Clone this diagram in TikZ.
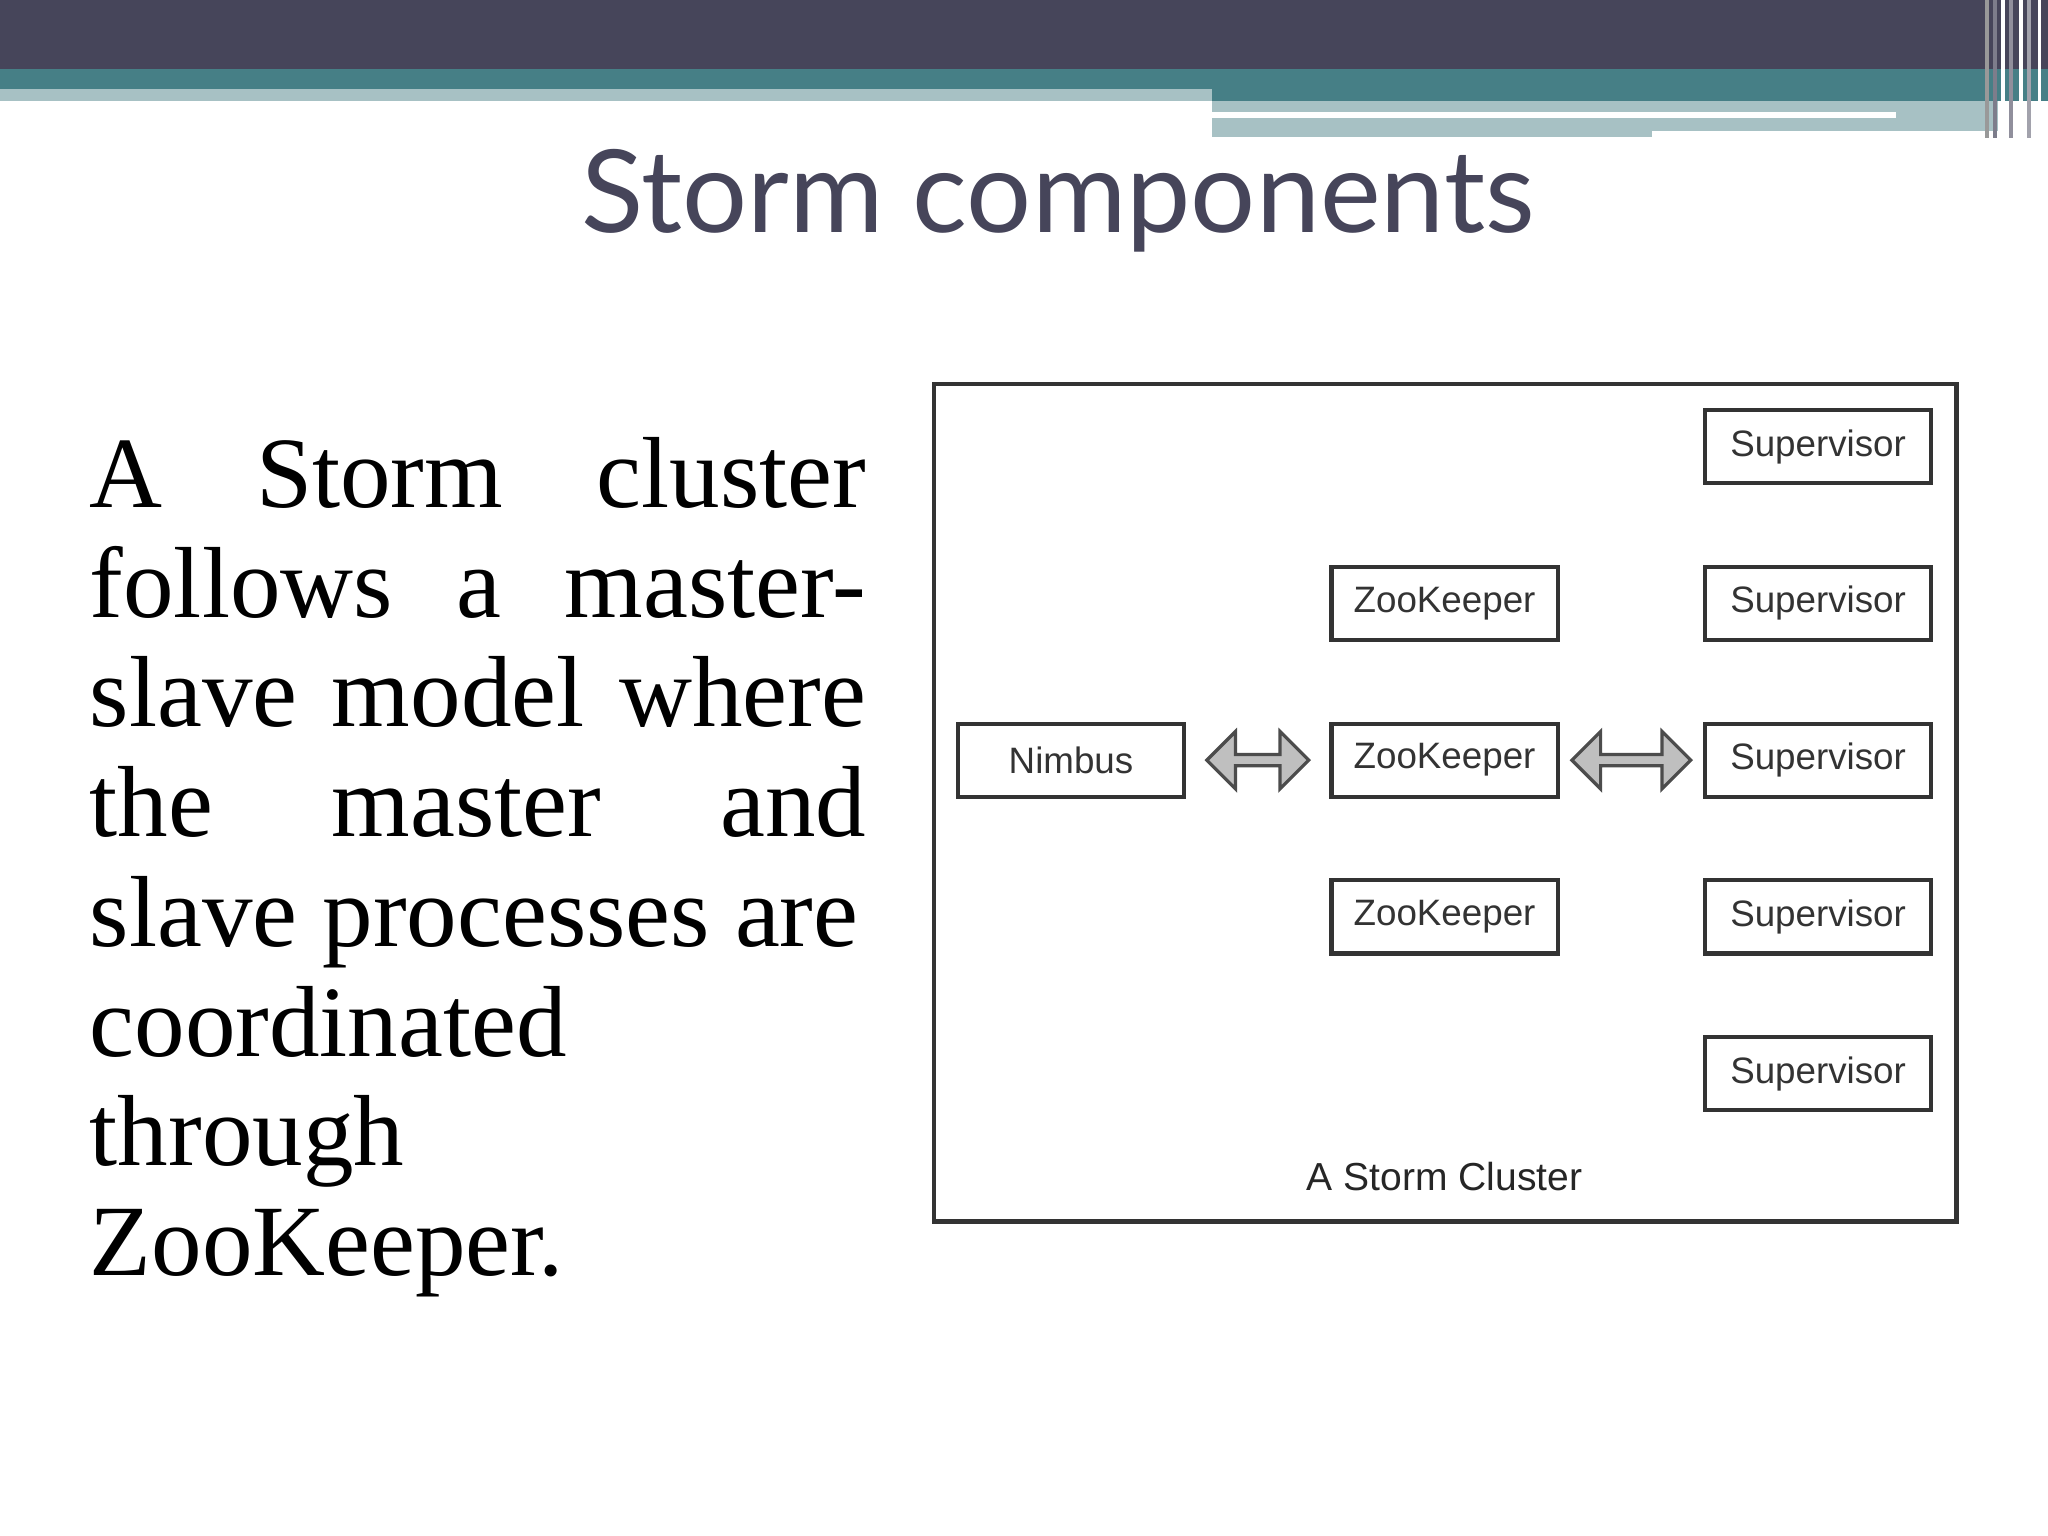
\documentclass[tikz,border=0pt]{standalone}
\usepackage{fontspec}
\setmainfont{Liberation Serif}
\newfontfamily\titlefont{Lato}
\newfontfamily\diagfont{Liberation Sans}
\usetikzlibrary{shapes.arrows}
\definecolor{dark}{HTML}{46455A}
\definecolor{teal}{HTML}{467F86}
\definecolor{lteal}{HTML}{A7C1C4}
\begin{document}
\begin{tikzpicture}[x=0.01cm,y=-0.01cm,
  box/.style={draw=black!80,line width=0.9pt,minimum width=1.73cm,minimum height=0.56cm,inner sep=0pt,font=\diagfont\fontsize{8}{10}\selectfont,text=black!80},
  darr/.style={double arrow,draw=black!70,fill=black!25,line width=0.7pt,double arrow head extend=0.05cm,minimum width=0.44cm,inner sep=0pt}]
\useasboundingbox (0,0) rectangle (1568,1176);
\fill[white] (0,0) rectangle (1568,1176);
% top bars
\fill[dark] (0,0) rectangle (1568,53);
\fill[teal] (0,53) rectangle (1568,77);
\fill[lteal] (0,68) rectangle (928,77);
\fill[lteal] (928,77) rectangle (1530,105);
\fill[white] (928,86) rectangle (1452,90);
\fill[white] (1265,100) rectangle (1530,106);
\foreach \x/\c in {1520/black!40,1526/dark!70,1532/white,1538/dark!60,1546/white,1552/dark!50,1560/white}
  \fill[\c] (\x,0) rectangle ++(3,106);
% title
\node[font=\titlefont\fontsize{25}{30}\selectfont,text=dark,anchor=base] (title) at (810,178) {Storm components};
% body text
\node[anchor=north west,inner sep=0pt,text width=5.94cm,align=justify,font=\fontsize{22}{23.9}\selectfont] (body) at (68,334)
{\hyphenpenalty=10000 A Storm cluster\linebreak follows a master-\linebreak slave model where\linebreak the master and\linebreak slave processes are\\ coordinated\\ through\\ ZooKeeper.};
% diagram
\draw[black!80,line width=1pt] (715,294) rectangle (1498,935);
\foreach \i/\y in {1/342,2/462,3/582,4/702,5/822}
  \node[box] (s\i) at (1392,\y) {Supervisor};
\foreach \i/\y in {1/462,2/582,3/702}
  \node[box] (z\i) at (1106,\y) {ZooKeeper};
\node[box] (n) at (820,582) {Nimbus};
\node[darr,minimum height=0.78cm] (a1) at (963,582) {};
\node[darr,minimum height=0.91cm] (a2) at (1249,582) {};
\node[font=\diagfont\fontsize{8.5}{12}\selectfont,text=black!85] (cap) at (1106,901) {A Storm Cluster};
\end{tikzpicture}
\end{document}
